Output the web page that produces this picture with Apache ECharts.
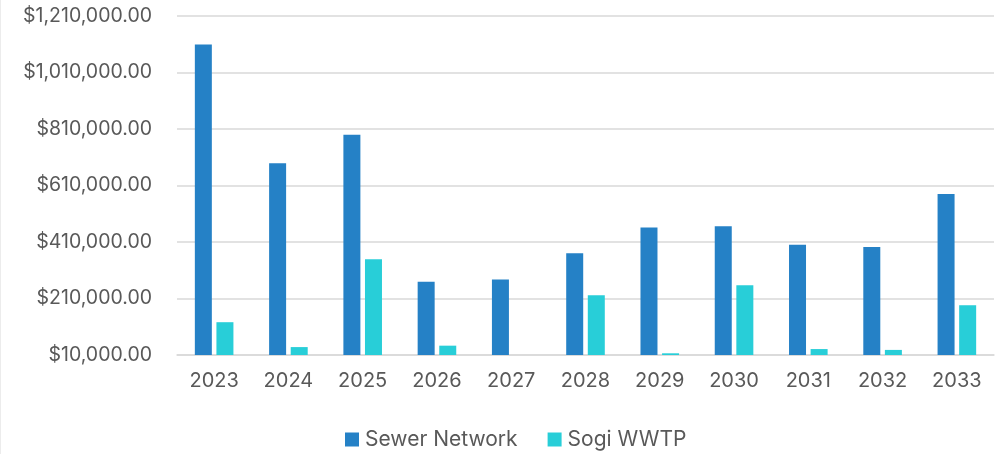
<!DOCTYPE html>
<html>
<head>
<meta charset="utf-8">
<script src="https://cdn.jsdelivr.net/npm/echarts@6/dist/echarts.min.js"></script>
<style>
  html, body { margin: 0; padding: 0; background: #ffffff; }
  #chart { width: 1003px; height: 454px; }
</style>
</head>
<body>
<div id="chart"></div>
<script>
// ---- Data ----
const years = ['2023','2024','2025','2026','2027','2028','2029','2030','2031','2032','2033'];
const sewerNetwork = [1108000, 688000, 789000, 269000, 277000, 370000, 461000, 465000, 400000, 392000, 579000];
const sogiWWTP     = [126000, 38000, 349000, 43000, 0, 221000, 16000, 257000, 31000, 28000, 186000];
const seriesNames = ['Sewer Network', 'Sogi WWTP'];
const axisBase = 10000;   // value axis starts at $10,000
const axisTop = 1210000;
const axisStep = 200000;

// axis is drawn relative to base so ticks land on $10,000, $210,000, ...
const rel = arr => arr.map(v => Math.max(v - axisBase, 0));
const fmtMoney = v => '$' + (v + axisBase).toLocaleString('en-US', { minimumFractionDigits: 2, maximumFractionDigits: 2 });

const textColor = '#595959';
const fontFam = 'Inter, "Open Sans", Arial, sans-serif';

const chart = echarts.init(document.getElementById('chart'));
chart.setOption({
  animation: false,
  backgroundColor: '#ffffff',
  grid: { left: 177, right: 9, top: 15.7, bottom: 99, containLabel: false },
  legend: {
    data: seriesNames,
    top: 424,
    left: 340,
    itemWidth: 14,
    itemHeight: 14,
    itemGap: 30,
    icon: 'rect',
    textStyle: { color: textColor, fontSize: 21, fontFamily: fontFam, padding: [0, 0, 0, 1] }
  },
  xAxis: {
    type: 'category',
    data: years,
    axisLine: { show: true, lineStyle: { color: '#d9d9d9', width: 1.5 } },
    axisTick: { show: false },
    axisLabel: { color: textColor, fontSize: 20, fontFamily: fontFam, margin: 16 }
  },
  yAxis: {
    type: 'value',
    min: 0,
    max: axisTop - axisBase,
    interval: axisStep,
    axisLine: { show: false },
    axisTick: { show: false },
    splitLine: { lineStyle: { color: '#d9d9d9', width: 1.5 } },
    axisLabel: { color: textColor, fontSize: 19.5, fontFamily: fontFam, margin: 25, formatter: fmtMoney }
  },
  series: [
    {
      name: seriesNames[0], type: 'bar', data: rel(sewerNetwork),
      barWidth: 17, barGap: '27%',
      itemStyle: { color: '#2581C6' }
    },
    {
      name: seriesNames[1], type: 'bar', data: rel(sogiWWTP),
      barWidth: 17, barGap: '27%',
      itemStyle: { color: '#28CED8' }
    }
  ],
  graphic: [{
    type: 'line', shape: { x1: 0.5, y1: 0, x2: 0.5, y2: 454 },
    style: { stroke: '#ececec', lineWidth: 1 }, silent: true
  }]
});
</script>
</body>
</html>
